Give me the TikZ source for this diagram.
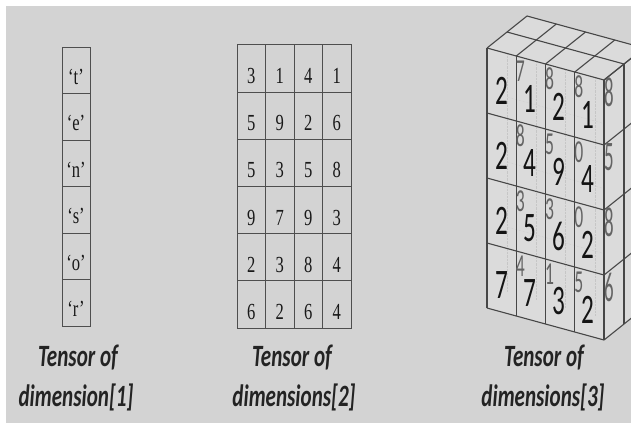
\documentclass[tikz,border=0pt]{standalone}
\usepackage{fontspec}
\setmainfont{Liberation Serif}
\newfontfamily\carl{Carlito}
\newcommand\hs[2]{\scalebox{#1}[1]{#2}}
\definecolor{bgc}{RGB}{211,211,211}
\definecolor{facec}{RGB}{219,219,219}
\definecolor{linec}{RGB}{78,78,78}
\definecolor{cubec}{RGB}{70,70,70}
\definecolor{ghost}{RGB}{100,100,100}
\definecolor{labc}{RGB}{35,35,35}
\tikzset{
  gridcell/.style={draw=linec, line width=1pt, fill=bgc, inner sep=0pt},
  celltxt/.style={font=\fontsize{23}{23}\selectfont, text=black!90, inner sep=0pt, anchor=base},
  cubeline/.style={draw=cubec, line width=1.1pt},
  hidden/.style={draw=gray!45, line width=0.4pt, densely dotted},
  bigdig/.style={font=\carl\fontsize{42}{42}\selectfont, text=black!92, inner sep=0pt},
  smalldig/.style={font=\carl\fontsize{32}{32}\selectfont, text=ghost, inner sep=0pt},
  sidedig/.style={font=\carl\fontsize{42}{42}\selectfont, text=ghost, inner sep=0pt},
  lab/.style={font=\carl\bfseries\itshape\fontsize{31}{31}\selectfont, text=labc, inner sep=0pt, anchor=base}
}
\begin{document}
\begin{tikzpicture}[x=1pt,y=-1pt]
\useasboundingbox (0,0) rectangle (631,423);
\clip (0,0) rectangle (631,423);
\fill[white] (0,0) rectangle (631,423);
\fill[bgc] (6,6) rectangle (631,423);

% ---------- 1D tensor ----------
\foreach \t [count=\j from 0] in {t,e,n,s,o,r} {
  \node[gridcell, minimum width=28pt, minimum height=46.5pt] (a\j) at (76, 70.25+46.5*\j) {};
  \node[celltxt] (at\j) at ([yshift=-14pt]a\j.center) {\hs{0.72}{`\t'}};
}

% ---------- 2D tensor ----------
\foreach \v [count=\n from 0] in {3,1,4,1, 5,9,2,6, 5,3,5,8, 9,7,9,3, 2,3,8,4, 6,2,6,4} {
  \pgfmathtruncatemacro\i{mod(\n,4)}
  \pgfmathtruncatemacro\j{div(\n,4)}
  \node[gridcell, minimum width=28.5pt, minimum height=47.17pt] (m\i\j) at (251.25+28.5*\i, 68.58+47.17*\j) {};
  \node[celltxt] (mt\i\j) at ([yshift=-15pt]m\i\j.center) {\hs{0.72}{\v}};
}

% ---------- 3D tensor ----------
\coordinate (F1) at (487,48);
\coordinate (F2) at (604,80);
\coordinate (F3) at (604,340);
\coordinate (F4) at (487,308);
\coordinate (T1) at (527,16);
\coordinate (T2) at (644,48);
\coordinate (S3) at (644,308);
\fill[facec] (F1) -- (F2) -- (F3) -- (F4) -- cycle;
\fill[facec] (F1) -- (F2) -- (T2) -- (T1) -- cycle;
\fill[facec] (F2) -- (T2) -- (S3) -- (F3) -- cycle;

% faint hidden grid seen through the front face
\begin{scope}
  \clip (F1) -- (F2) -- (F3) -- (F4) -- cycle;
  \foreach \i in {0,...,3} \draw[hidden] (507+29.25*\i, 32+8*\i) -- ++(0,260);
  \foreach \j in {1,2,3} \draw[hidden] (507, 32+65*\j) -- ++(117,32);
\end{scope}

% front face grid
\foreach \i in {0,...,4} \draw[cubeline] (487+29.25*\i, 48+8*\i) -- ++(0,260);
\foreach \j in {0,...,4} \draw[cubeline] (487, 48+65*\j) -- ++(117,32);
% top face grid
\foreach \i in {0,...,4} \draw[cubeline] (487+29.25*\i, 48+8*\i) -- ++(40,-32);
\foreach \k in {1,2} \draw[cubeline] (487+20*\k, 48-16*\k) -- ++(117,32);
% side face grid
\foreach \k in {1,2} \draw[cubeline] (604+20*\k, 80-16*\k) -- ++(0,260);
\foreach \j in {0,...,4} \draw[cubeline] (604, 80+65*\j) -- ++(40,-32);

% ghost digits from the layer behind
\foreach \v [count=\n from 0] in {7,8,8, 8,5,0, 3,3,0, 4,1,5} {
  \pgfmathtruncatemacro\i{mod(\n,3)+1}
  \pgfmathtruncatemacro\j{div(\n,3)}
  \node[smalldig] (g\i\j) at (487+29.25*\i+4, 48+65*\j+8*\i+15) {\hs{0.55}{\v}};
}
% side digits
\foreach \v [count=\j from 0] in {8,5,8,6} {
  \node[sidedig] (s\j) at (609, 92+65*\j) {\hs{0.45}{\v}};
}
% front digits
\foreach \v [count=\n from 0] in {2,1,2,1, 2,4,9,4, 2,5,6,2, 7,7,3,2} {
  \pgfmathtruncatemacro\i{mod(\n,4)}
  \pgfmathtruncatemacro\j{div(\n,4)}
  \node[bigdig] (f\i\j) at (487+29.25*\i+14.6-0.5*\i, 48+65*\j+8*\i+36.5+6) {\hs{0.6}{\v}};
}

% ---------- labels ----------
\node[lab] (l1a) at (78,366) {\hs{0.68}{Tensor of}};
\node[lab] (l1b) at (76,406) {\hs{0.68}{dimension[1]}};
\node[lab] (l2a) at (292,366) {\hs{0.68}{Tensor of}};
\node[lab] (l2b) at (294,406) {\hs{0.68}{dimensions[2]}};
\node[lab] (l3a) at (544,366) {\hs{0.68}{Tensor of}};
\node[lab] (l3b) at (543,406) {\hs{0.68}{dimensions[3]}};
\end{tikzpicture}
\end{document}
